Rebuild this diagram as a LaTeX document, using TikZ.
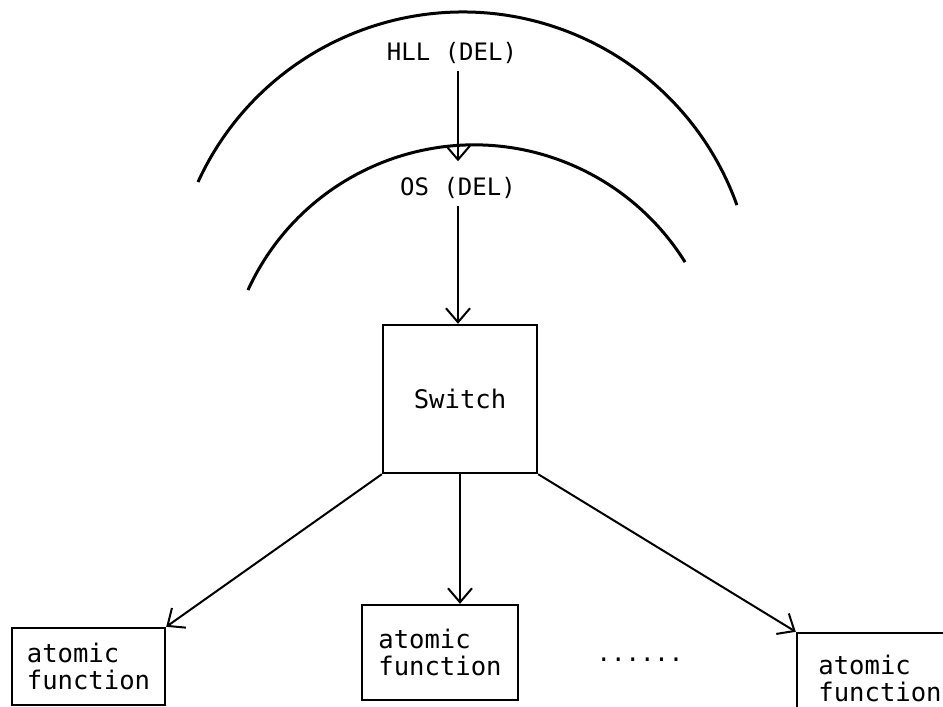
\documentclass[tikz,border=0pt]{standalone}
\usepackage{fontspec}
\setmonofont{DejaVu Sans Mono}
\usetikzlibrary{positioning}
\usetikzlibrary{arrows.meta}

\begin{document}
\begin{tikzpicture}[x=0.5pt, y=-0.5pt, >={Straight Barb[length=7pt,width=12pt]},
	font=\ttfamily\fontsize{12}{12.5}\selectfont,
	unit/.style={draw, line width=1.2pt, align=left, font=\ttfamily\fontsize{12.8}{13.5}\selectfont},
	flow/.style={->, line width=1pt}]
	\clip (0,0) rectangle (943,707);

	% the two layers
	\draw [line width=1.5pt] (198,182) arc [start angle=155.4, end angle=19.7, radius=145.6pt];
	\draw [line width=1.5pt] (248,290) arc [start angle=155.4, end angle=31.9, radius=124.3pt];

	\node (hll) at (452,53) {HLL (DEL)};
	\node (os) at (458,188) {OS (DEL)};
	\node [unit, minimum width=77pt, minimum height=74pt] (sw) at (460,399) {Switch};

	\node [unit, minimum width=76.5pt, minimum height=38.5pt] (af1) at (88.5,666.5) {atomic\\function};
	\node [unit, minimum width=78pt, minimum height=47.5pt] (af2) at (440,652.5) {atomic\\function};
	\node [unit, minimum width=83pt, minimum height=45pt] (af3) at (880,678) {atomic\\function};
	\node (dots) at (640,660) {......};

	\draw [flow, shorten >=4.5pt] (os.north |- hll.south) -- (os);
	\draw [flow] (os) -- (os |- sw.north);
	\draw [flow] (sw.south west) -- (af1.north east);
	\draw [flow] (sw.south) -- (sw.south |- af2.north);
	\draw [flow] (sw.south east) -- (af3.north west);
\end{tikzpicture}
\end{document}
